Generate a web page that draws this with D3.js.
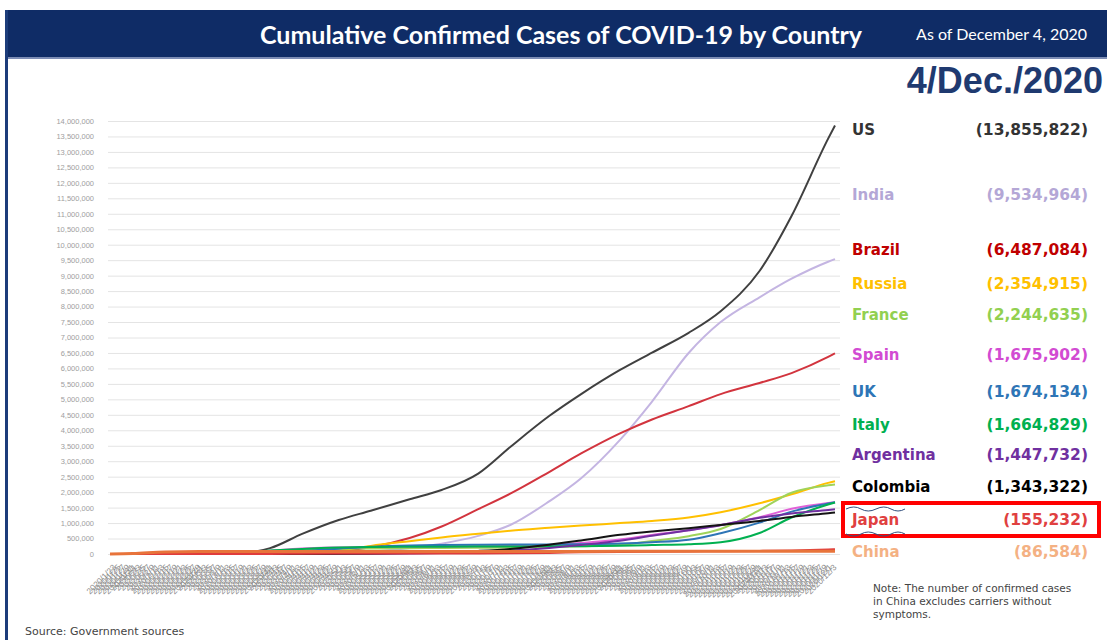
<!DOCTYPE html>
<html>
<head>
<meta charset="utf-8">
<script src="https://cdnjs.cloudflare.com/ajax/libs/d3/7.8.5/d3.min.js"></script>
<style>
  body { margin: 0; background: #fff; }
  svg text { font-family: "DejaVu Sans", Verdana, sans-serif; }
</style>
</head>
<body>
<svg id="chart" width="1107" height="640"></svg>
<script>
// sample dates (1st and 15th of month, plus the last day)
const dates = ["2020-01-22","2020-02-01","2020-02-15","2020-03-01","2020-03-15","2020-04-01","2020-04-15",
  "2020-05-01","2020-05-15","2020-06-01","2020-06-15","2020-07-01","2020-07-15","2020-08-01","2020-08-15",
  "2020-09-01","2020-09-15","2020-10-01","2020-10-15","2020-11-01","2020-11-15","2020-12-01","2020-12-04"];

// cumulative cases, in thousands
const usCases        = [0, 0, 0, 0.07, 3.5, 190, 650, 1100, 1400, 1770, 2070, 2600, 3460, 4460, 5170, 5950, 6510, 7150, 7850, 9150, 10930, 13430, 13856];
const indiaCases     = [0, 0, 0, 0, 0.1, 1.8, 12, 35, 82, 190, 333, 585, 937, 1700, 2450, 3690, 4930, 6500, 7500, 8300, 8900, 9450, 9535];
const brazilCases    = [0, 0, 0, 0, 0.2, 6.8, 28, 92, 220, 515, 890, 1450, 1950, 2650, 3250, 3900, 4350, 4780, 5170, 5530, 5850, 6370, 6487];
const russiaCases    = [0, 0, 0, 0, 0.06, 2.8, 25, 114, 262, 415, 537, 655, 752, 845, 918, 1000, 1070, 1180, 1350, 1640, 1930, 2300, 2355];
const franceCases    = [0, 0, 0.01, 0.13, 5.4, 57, 131, 167, 179, 189, 194, 203, 210, 226, 252, 294, 420, 577, 810, 1420, 1980, 2220, 2245];
const spainCases     = [0, 0, 0.002, 0.08, 7.8, 104, 180, 214, 230, 240, 244, 250, 258, 288, 358, 470, 615, 770, 937, 1190, 1460, 1650, 1676];
const ukCases        = [0, 0, 0.009, 0.04, 1.4, 29, 98, 172, 234, 276, 290, 300, 305, 306, 318, 338, 380, 460, 674, 1015, 1370, 1630, 1674];
const italyCases     = [0, 0, 0.003, 1.7, 25, 110, 165, 207, 224, 233, 237, 241, 244, 248, 253, 270, 290, 315, 380, 680, 1180, 1600, 1665];
const argentinaCases = [0, 0, 0, 0, 0.05, 1.05, 2.4, 4.4, 7.1, 17, 32, 67, 111, 196, 290, 428, 590, 765, 931, 1170, 1310, 1425, 1448];
const colombiaCases  = [0, 0, 0, 0, 0.05, 1.07, 3.1, 6.5, 14, 30, 50, 100, 165, 300, 440, 620, 730, 835, 940, 1070, 1200, 1320, 1343];
const japanCases     = [0.001, 0.02, 0.05, 0.24, 0.8, 2.3, 8.6, 14.3, 16.2, 16.9, 17.6, 18.9, 23, 36, 53, 68, 76, 84, 90, 101, 116, 148, 155];
const chinaCases     = [0.6, 14.4, 68.5, 80.0, 81.0, 81.6, 82.3, 82.9, 82.9, 83.0, 83.2, 83.5, 83.6, 84.3, 84.8, 85.1, 85.2, 85.4, 85.6, 86.0, 86.3, 86.5, 86.6];

const countries = ["US","India","Brazil","Russia","France","Spain","UK","Italy","Argentina","Colombia","Japan","China"];
const latest = [13855822, 9534964, 6487084, 2354915, 2244635, 1675902, 1674134, 1664829, 1447732, 1343322, 155232, 86584];
const allCases = [usCases, indiaCases, brazilCases, russiaCases, franceCases, spainCases, ukCases, italyCases,
  argentinaCases, colombiaCases, japanCases, chinaCases];

const lineColors = ["#404040","#c4b5e2","#d2343e","#ffc000","#9fd35a","#e060d8","#2e75b6","#00b050","#7030a0","#141414","#e03c3c","#e8743b"];
const textColors = ["#333333","#b4a7d6","#c00000","#ffc000","#92d050","#d24bd2","#2e75b6","#00b050","#7030a0","#000000","#e04040","#f4b183"];
const legendY = [135, 200, 255, 289, 320, 360, 397, 430, 460, 492, 525, 557];

const svg = d3.select("#chart");
const parse = d3.timeParse("%Y-%m-%d");

// header band + frame
svg.append("rect").attr("x", 5).attr("y", 10).attr("width", 1102).attr("height", 47).attr("fill", "#0f2c66");
svg.append("rect").attr("x", 5).attr("y", 57).attr("width", 1102).attr("height", 2).attr("fill", "#7d8db5");
svg.append("rect").attr("x", 5).attr("y", 10).attr("width", 3).attr("height", 630).attr("fill", "#1c3c7a");

svg.append("text").attr("x", 561).attr("y", 44).attr("text-anchor", "middle")
  .attr("fill", "#fff").style("font-family", "Lato, sans-serif").style("font-weight", "bold").style("font-size", "25px")
  .text("Cumulative Confirmed Cases of COVID-19 by Country");
svg.append("text").attr("x", 1087).attr("y", 40).attr("text-anchor", "end")
  .attr("fill", "#fff").style("font-family", "Lato, sans-serif").style("font-size", "16px")
  .text("As of December 4, 2020");

svg.append("text").attr("x", 1103).attr("y", 93).attr("text-anchor", "end")
  .attr("fill", "#1f3a70").style("font-family", "'Liberation Sans', Arial, sans-serif").style("font-weight", "bold").style("font-size", "36px")
  .text("4/Dec./2020");

// scales
const x = d3.scaleTime().domain([parse(dates[0]), parse(dates[dates.length - 1])]).range([110, 835]);
const y = d3.scaleLinear().domain([0, 14000000]).range([554, 121]);

// gridlines + y labels
const yAxis = d3.axisLeft(y).tickValues(d3.range(0, 14000001, 500000))
  .tickFormat(d3.format(",")).tickSize(-732).tickPadding(14);
const gy = svg.append("g").attr("transform", "translate(108,0)").call(yAxis);
gy.select(".domain").remove();
gy.selectAll(".tick line").attr("stroke", "#e4e4e4");
gy.selectAll(".tick text").attr("fill", "#9e9e9e")
  .style("font-family", "'Liberation Sans', Arial, sans-serif").style("font-size", "7.5px");

// x labels (dense rotated dates)
const xAxis = d3.axisBottom(x).ticks(d3.timeDay.every(2)).tickFormat(d3.timeFormat("%Y/%-m/%-d")).tickSize(0);
const gx = svg.append("g").attr("transform", "translate(0,564)").call(xAxis);
gx.select(".domain").remove();
gx.selectAll(".tick text").attr("fill", "#8c8c8c")
  .style("font-family", "'Liberation Sans', Arial, sans-serif").style("font-size", "8.5px")
  .attr("text-anchor", "end").attr("dx", "0").attr("dy", "0.3em")
  .attr("transform", "rotate(-45)");

// lines
const line = d3.line()
  .x(d => x(d.date))
  .y(d => y(d.value))
  .curve(d3.curveMonotoneX);

countries.forEach((name, i) => {
  const rows = dates.map((d, j) => ({ date: parse(d), value: allCases[i][j] * 1000 }));
  svg.append("path").datum(rows)
    .attr("fill", "none")
    .attr("stroke", lineColors[i])
    .attr("stroke-width", name === "China" ? 3 : 2)
    .attr("d", line);
});

// legend
countries.forEach((name, i) => {
  svg.append("text").attr("x", 852).attr("y", legendY[i])
    .attr("fill", textColors[i]).style("font-weight", "bold").style("font-size", "15px")
    .text(name);
  svg.append("text").attr("x", 1088).attr("y", legendY[i]).attr("text-anchor", "end")
    .attr("fill", textColors[i]).style("font-weight", "bold").style("font-size", "15.5px")
    .text("(" + d3.format(",")(latest[i]) + ")");
});

// Japan highlight
svg.append("rect").attr("x", 843).attr("y", 503).attr("width", 256).attr("height", 33)
  .attr("fill", "none").attr("stroke", "#ff0000").attr("stroke-width", 4);
svg.append("path")
  .attr("d", "M846,509 q8,-4 15,0 t15,0 t15,0 t14,0 M846,534 q8,4 15,0 t15,0 t15,0 t14,0")
  .attr("fill", "none").attr("stroke", "#33507e").attr("stroke-width", 1);

// notes
const note = ["Note: The number of confirmed cases", "in China excludes carriers without", "symptoms."];
note.forEach((t, i) => {
  svg.append("text").attr("x", 873).attr("y", 592 + i * 13)
    .attr("fill", "#444").style("font-size", "10.5px").text(t);
});
svg.append("text").attr("x", 25).attr("y", 635)
  .attr("fill", "#444").style("font-size", "11px").text("Source: Government sources");
</script>
</body>
</html>
